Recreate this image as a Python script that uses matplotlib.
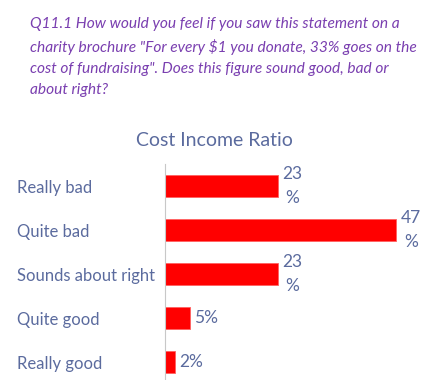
import matplotlib.pyplot as plt

categories = ["Really bad", "Quite bad", "Sounds about right", "Quite good", "Really good"]
values = [23, 47, 23, 5, 2]
value_labels = ["23\n%", "47\n%", "23\n%", "5%", "2%"]

question = ('Q11.1 How would you feel if you saw this statement on a\n'
            'charity brochure "For every $1 you donate, 33% goes on the\n'
            'cost of fundraising". Does this figure sound good, bad or\n'
            'about right?')

W, H = 442, 380
fig = plt.figure(figsize=(W / 100, H / 100), dpi=100)
plt.rcParams['font.family'] = ['Lato', 'DejaVu Sans']
text_col = "#5b6b9e"

fig.text(30 / W, 1 - 17 / H, question, color="#7a3fb0", style="italic",
         fontsize=11.2, va="top", ha="left", linespacing=1.62)
fig.text(214 / W, 1 - 140 / H, "Cost Income Ratio", color=text_col,
         fontsize=14, ha="center", va="center")

# axes: left edge at x=165px, top at y=164px, 44 px per category
ax = fig.add_axes([165 / W, 0, 246 / W, (H - 164) / H])
ax.barh(range(len(values)), values, height=0.5, color="#ff0000",
        edgecolor="#ff6060", linewidth=0.6)
ax.set_xlim(0, 50)
ax.set_ylim(-0.5 + (H - 164) / 44, -0.5)

for i, (v, lab) in enumerate(zip(values, value_labels)):
    ax.text(v + 0.9, i, lab, color=text_col, fontsize=12.5, va="center",
            ha="left", linespacing=1.55, multialignment="center")

ax.set_yticks(range(len(categories)))
ax.set_yticklabels(categories, color=text_col, fontsize=12)
for t in ax.get_yticklabels():
    t.set_ha("left")
ax.tick_params(axis="y", length=0, pad=(165 - 17) * 0.72)
ax.set_xticks([])
for s in ["top", "right", "bottom"]:
    ax.spines[s].set_visible(False)
ax.spines["left"].set_color("#c8c8c8")

fig.savefig("out.png", dpi=100, facecolor="white")
